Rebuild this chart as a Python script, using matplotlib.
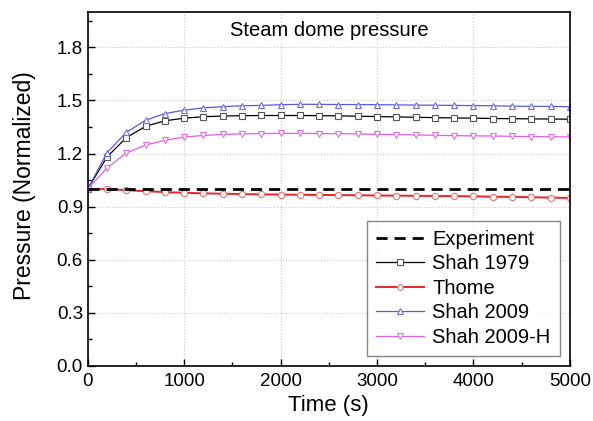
import numpy as np
import matplotlib
matplotlib.use("Agg")
import matplotlib.pyplot as plt
from matplotlib.ticker import MultipleLocator

plt.rcParams['font.family'] = ['Liberation Sans', 'DejaVu Sans']

time = list(range(0, 5001, 200))
shah1979 = [1.0, 1.181, 1.29, 1.354, 1.385, 1.40, 1.408, 1.412, 1.414, 1.415, 1.415, 1.415, 1.414,
            1.413, 1.411, 1.409, 1.407, 1.405, 1.403, 1.401, 1.40, 1.398, 1.397, 1.396, 1.395, 1.394]
thome = [1.0, 1.0, 0.993, 0.987, 0.982, 0.978, 0.975, 0.973, 0.971, 0.969, 0.968, 0.967, 0.966,
         0.965, 0.964, 0.963, 0.962, 0.961, 0.960, 0.959, 0.958, 0.956, 0.955, 0.953, 0.951, 0.949]
shah2009 = [1.0, 1.205, 1.32, 1.388, 1.426, 1.445, 1.458, 1.465, 1.47, 1.472, 1.476, 1.478, 1.478,
            1.477, 1.477, 1.476, 1.475, 1.474, 1.473, 1.472, 1.471, 1.47, 1.468, 1.467, 1.466, 1.465]
shah2009h = [1.0, 1.118, 1.203, 1.248, 1.275, 1.293, 1.302, 1.308, 1.311, 1.313, 1.314, 1.314, 1.313,
             1.312, 1.311, 1.309, 1.307, 1.305, 1.303, 1.301, 1.30, 1.299, 1.297, 1.296, 1.295, 1.294]
exp_time = [0, 5000]
experiment = [1.0, 1.0]

fig = plt.figure(figsize=(5.93, 4.21), dpi=100)
ax = fig.add_axes([0.148, 0.131, 0.813, 0.8405])

ax.plot(exp_time, experiment, color='black', lw=2, ls=(0, (4, 2.5)), label='Experiment', zorder=5)
ax.plot(time, shah1979, color='black', lw=0.9, marker='s', ms=4.5, mfc='white', mec='#555555',
        mew=0.8, label='Shah 1979')
ax.plot(time, thome, color='#e8242a', lw=1.4, marker='o', ms=4.5, mfc='white', mec='#f07070',
        mew=0.8, label='Thome')
ax.plot(time, shah2009, color='#5a5ae0', lw=0.9, marker='^', ms=5, mfc='white', mec='#7070e8',
        mew=0.8, label='Shah 2009')
ax.plot(time, shah2009h, color='#e060e0', lw=0.9, marker='v', ms=5, mfc='white', mec='#e070e8',
        mew=0.8, label='Shah 2009-H')

ax.set_xlim(0, 5000)
ax.set_ylim(0, 2.0)
ax.set_yticks(np.arange(0, 1.81, 0.3))
ax.set_yticklabels([f"{v:.1f}" for v in np.arange(0, 1.81, 0.3)])
ax.xaxis.set_major_locator(MultipleLocator(1000))
ax.xaxis.set_minor_locator(MultipleLocator(500))
ax.yaxis.set_minor_locator(MultipleLocator(0.15))
ax.tick_params(which='both', direction='in', labelsize=13.5)
ax.tick_params(which='major', length=5, width=1)
ax.tick_params(which='minor', length=3, width=1)
ax.tick_params(axis='x', pad=5)
ax.grid(True, which='major', color='#c8c8c8', ls=':', lw=0.8)
for s in ax.spines.values():
    s.set_linewidth(1.2)

ax.set_xlabel('Time (s)', fontsize=16, labelpad=4)
ax.set_ylabel('Pressure (Normalized)', fontsize=16.5)
ax.yaxis.set_label_coords(-0.107, 0.51)
ax.text(0.5, 0.975, 'Steam dome pressure', transform=ax.transAxes, ha='center', va='top', fontsize=14.5)

leg = ax.legend(loc='lower right', fontsize=14.5, frameon=True, fancybox=False, handlelength=2.4,
                borderpad=0.45, labelspacing=0.27, handletextpad=0.4, borderaxespad=0.5)
leg.get_frame().set_edgecolor('#666666')
leg.get_frame().set_linewidth(1.0)
for lh in leg.get_lines():
    lh.set_markersize(4)

fig.savefig('out.png', dpi=100)
